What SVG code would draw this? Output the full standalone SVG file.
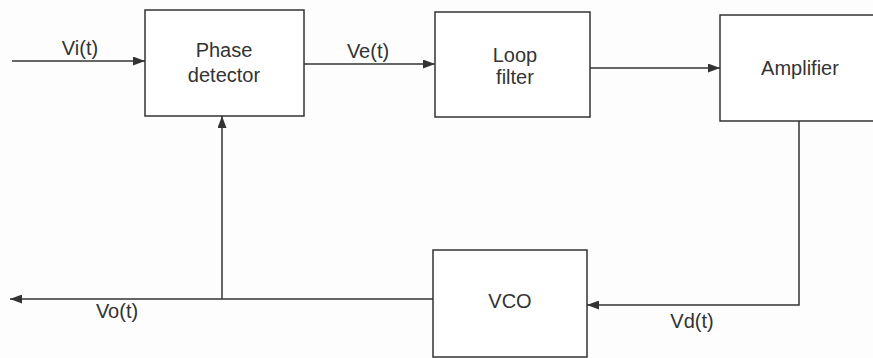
<svg xmlns="http://www.w3.org/2000/svg" width="873" height="358" viewBox="0 0 873 358">
<defs>
<marker id="ah" viewBox="0 0 12 9" refX="12" refY="4.5" markerWidth="12" markerHeight="9" markerUnits="userSpaceOnUse" orient="auto">
<path d="M0,0 L12,4.5 L0,9 Z" fill="#333"/>
</marker>
</defs>
<style>
.box{fill:#fff;stroke:#333;stroke-width:1.5}
.ln{fill:none;stroke:#333;stroke-width:1.5}
text{font-family:"Liberation Sans",Arial,sans-serif;font-size:20px;fill:#333;text-anchor:middle}
</style>
<rect width="873" height="358" fill="#fdfdfd"/>
<g id="connectors">
<line class="ln" x1="12" y1="61" x2="145" y2="61" marker-end="url(#ah)"/>
<line class="ln" x1="304" y1="64" x2="435" y2="64" marker-end="url(#ah)"/>
<line class="ln" x1="590" y1="68" x2="720" y2="68" marker-end="url(#ah)"/>
<polyline class="ln" points="799,121 799,305 587,305" marker-end="url(#ah)"/>
<line class="ln" x1="433" y1="299" x2="10" y2="299" marker-end="url(#ah)"/>
<line class="ln" x1="222" y1="299" x2="222" y2="116" marker-end="url(#ah)"/>
<text x="80" y="55">Vi(t)</text>
<text x="368" y="58">Ve(t)</text>
<text x="692" y="328">Vd(t)</text>
<text x="117" y="318">Vo(t)</text>
</g>
<g id="phase-detector">
<rect class="box" x="145" y="10" width="159" height="106"/>
<text x="224" y="57">Phase</text>
<text x="224" y="82">detector</text>
</g>
<g id="loop-filter">
<rect class="box" x="435" y="12" width="155" height="105"/>
<text x="515" y="62">Loop</text>
<text x="515" y="84">filter</text>
</g>
<g id="amplifier">
<rect class="box" x="720" y="15" width="170" height="106"/>
<text x="800" y="75">Amplifier</text>
</g>
<g id="vco">
<rect class="box" x="433" y="250" width="154" height="107"/>
<text x="510" y="308">VCO</text>
</g>
</svg>
